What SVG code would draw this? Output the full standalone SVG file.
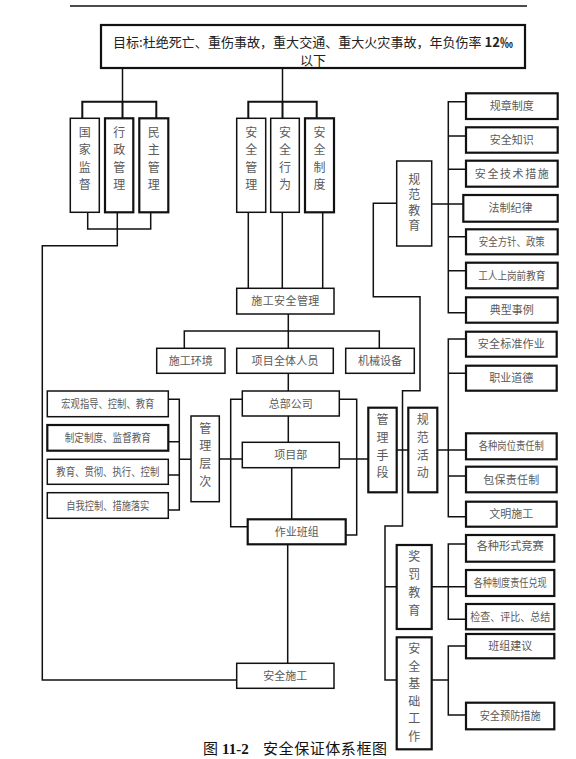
<svg xmlns="http://www.w3.org/2000/svg" width="576" height="759" viewBox="0 0 576 759">
<style>
.b{fill:#fff;stroke:#111;stroke-width:1.5}
.bb{fill:#fff;stroke:#111;stroke-width:2.2}
.t{font-family:"Noto Sans CJK SC","Noto Sans",sans-serif;font-size:11px;fill:#5a5a5a;text-anchor:middle}
.v{font-family:"Noto Sans CJK SC","Noto Sans",sans-serif;font-size:12px;fill:#5a5a5a;text-anchor:middle}
.c{stroke:#111;stroke-width:1.5;fill:none}
</style>
<rect width="576" height="759" fill="#fff"/>
<line x1="70" y1="6" x2="527" y2="6" stroke="#111" stroke-width="1.6"/>

<g id="connectors" class="c">
<path d="M122.5,68V101.7M282.5,68V101.7"/>
<path d="M82.3,118.3V101.7H156.3V118.3M122.5,101.7V118.3" stroke-width="2"/>
<path d="M248.3,118.3V101.7H316.7V118.3M282.5,101.7V118.3" stroke-width="2"/>
<path d="M87.7,212.3V229H150.7V212.3M117.3,212.3V245.7H42.3V680H236.7"/>
<path d="M248.3,212.3V288.3M282.3,212.3V288.3M322.7,212.3V288.3"/>
<path d="M288.3,314V331M184.3,348.3V331H379.3V348.3M288.3,331V348.3"/>
<path d="M288.3,373.3V391M288.3,416V442.3M291.7,467.7V519.3M287.7,544.3V663.3"/>
<path d="M168.3,399.3H179.3V510H168.3M168.3,441.7H179.3M168.3,475H179.3M179.3,459.3H191"/>
<path d="M219.3,459H242.3M242.3,399.3H230.7V526.7H247.7"/>
<path d="M339.3,399.3H356.7V535H345.7M339.3,459H368.3"/>
<path d="M396.7,450H408.3M437.3,450H466"/>
<path d="M396.7,203.3H373.3V296.7H420V390.7H402.5V526H385V680H396.7M385,586.7H396.7"/>
<path d="M466,101.7H448.3V312.7H466M448.3,136H466M448.3,169.3H466M431.7,204H463.3M448.3,236.7H466M448.3,270.7H466"/>
<path d="M466,339H448.3V516.7H466M448.3,373.3H466M448.3,476H466"/>
<path d="M431.7,586.7H466M466,544H448.3V619.3H466"/>
<path d="M431.7,680H448.3M466,646H448.3V715H466"/>
</g>

<g id="goal">
<rect class="bb" x="101" y="25" width="424" height="43"/>
<text x="313" y="47" font-family="Noto Sans CJK SC,sans-serif" font-size="13" fill="#222" text-anchor="middle" textLength="400" lengthAdjust="spacingAndGlyphs">目标:杜绝死亡、重伤事故，重大交通、重大火灾事故，年负伤率 <tspan font-weight="bold">12‰</tspan></text>
<text x="313" y="65" font-family="Noto Sans CJK SC,sans-serif" font-size="13" fill="#222" text-anchor="middle">以下</text>
</g>

<g id="n-guojia"><rect class="b" x="70.3" y="118.3" width="29" height="94"/>
<text class="v"><tspan x="84.8" y="136.5">国</tspan><tspan x="84.8" y="154">家</tspan><tspan x="84.8" y="171.5">监</tspan><tspan x="84.8" y="189">督</tspan></text></g>
<g id="n-xingzheng"><rect class="bb" x="105" y="118.3" width="28.3" height="94"/>
<text class="v"><tspan x="119.2" y="136.5">行</tspan><tspan x="119.2" y="154">政</tspan><tspan x="119.2" y="171.5">管</tspan><tspan x="119.2" y="189">理</tspan></text></g>
<g id="n-minzhu"><rect class="bb" x="139.3" y="118.3" width="29" height="94"/>
<text class="v"><tspan x="153.8" y="136.5">民</tspan><tspan x="153.8" y="154">主</tspan><tspan x="153.8" y="171.5">管</tspan><tspan x="153.8" y="189">理</tspan></text></g>

<g id="n-anquanguanli"><rect class="b" x="236.7" y="118.3" width="29" height="94"/>
<text class="v"><tspan x="251.2" y="136.5">安</tspan><tspan x="251.2" y="154">全</tspan><tspan x="251.2" y="171.5">管</tspan><tspan x="251.2" y="189">理</tspan></text></g>
<g id="n-anquanxingwei"><rect class="b" x="270.7" y="118.3" width="28.6" height="94"/>
<text class="v"><tspan x="285" y="136.5">安</tspan><tspan x="285" y="154">全</tspan><tspan x="285" y="171.5">行</tspan><tspan x="285" y="189">为</tspan></text></g>
<g id="n-anquanzhidu"><rect class="bb" x="305" y="118.3" width="29" height="94"/>
<text class="v"><tspan x="319.5" y="136.5">安</tspan><tspan x="319.5" y="154">全</tspan><tspan x="319.5" y="171.5">制</tspan><tspan x="319.5" y="189">度</tspan></text></g>

<g id="n-shigonganquan"><rect class="b" x="236.7" y="288.3" width="97.3" height="25.7"/>
<text class="t" x="285.3" y="305.2" textLength="68" lengthAdjust="spacing">施工安全管理</text></g>
<g id="n-huanjing"><rect class="b" x="156.7" y="348.3" width="68.3" height="25"/>
<text class="t" x="190.8" y="365">施工环境</text></g>
<g id="n-renyuan"><rect class="b" x="236.7" y="348.3" width="96.6" height="25"/>
<text class="t" x="285" y="365" textLength="67" lengthAdjust="spacing">项目全体人员</text></g>
<g id="n-jixie"><rect class="b" x="345.7" y="348.3" width="68.6" height="25"/>
<text class="t" x="380" y="365">机械设备</text></g>

<g id="n-zongbu"><rect class="b" x="242.3" y="391" width="97" height="25"/>
<text class="t" x="290.8" y="407.5">总部公司</text></g>
<g id="n-xiangmubu"><rect class="b" x="242.3" y="442.3" width="97" height="25.4"/>
<text class="t" x="290.8" y="459">项目部</text></g>
<g id="n-banzu"><rect class="bb" x="247.7" y="519.3" width="98" height="25"/>
<text class="t" x="296.7" y="536">作业班组</text></g>
<g id="n-anquanshigong"><rect class="b" x="236.7" y="663.3" width="97.3" height="25"/>
<text class="t" x="285.3" y="680">安全施工</text></g>

<g id="n-l1"><rect class="b" x="47.3" y="391" width="121" height="25.7"/>
<text class="t" x="107.8" y="407.8" textLength="93" lengthAdjust="spacingAndGlyphs">宏观指导、控制、教育</text></g>
<g id="n-l2"><rect class="bb" x="47.3" y="425" width="121" height="25.7"/>
<text class="t" x="107.8" y="441.8" textLength="86" lengthAdjust="spacingAndGlyphs">制定制度、监督教育</text></g>
<g id="n-l3"><rect class="b" x="47.3" y="459.3" width="121" height="25"/>
<text class="t" x="107.8" y="475.8" textLength="103" lengthAdjust="spacingAndGlyphs">教育、贯彻、执行、控制</text></g>
<g id="n-l4"><rect class="b" x="47.3" y="492.7" width="121" height="25.6"/>
<text class="t" x="107.8" y="509.5" textLength="83" lengthAdjust="spacingAndGlyphs">自我控制、措施落实</text></g>

<g id="n-guanlicengci"><rect class="b" x="191" y="416" width="28.3" height="85.7"/>
<text class="v"><tspan x="205.2" y="432.5">管</tspan><tspan x="205.2" y="450.2">理</tspan><tspan x="205.2" y="467.9">层</tspan><tspan x="205.2" y="485.5">次</tspan></text></g>
<g id="n-guanlishouduan"><rect class="bb" x="368.3" y="407.7" width="28.4" height="84.6"/>
<text class="v"><tspan x="382.5" y="423.5">管</tspan><tspan x="382.5" y="441.5">理</tspan><tspan x="382.5" y="459.5">手</tspan><tspan x="382.5" y="477.2">段</tspan></text></g>
<g id="n-guifanhuodong"><rect class="bb" x="408.3" y="407.7" width="29" height="84.6"/>
<text class="v"><tspan x="422.8" y="423.5">规</tspan><tspan x="422.8" y="441.5">范</tspan><tspan x="422.8" y="459.5">活</tspan><tspan x="422.8" y="477.2">动</tspan></text></g>

<g id="n-guifanjiaoyu"><rect class="b" x="396.7" y="161" width="35" height="85"/>
<text class="v" font-size="10.5"><tspan x="414.2" y="184">规</tspan><tspan x="414.2" y="199.4">范</tspan><tspan x="414.2" y="214.8">教</tspan><tspan x="414.2" y="230.2">育</tspan></text></g>

<g id="n-r1"><rect class="bb" x="466" y="93.3" width="91.7" height="25.7"/><text class="t" x="511.8" y="110.2">规章制度</text></g>
<g id="n-r2"><rect class="bb" x="466" y="127.3" width="91.7" height="25.4"/><text class="t" x="511.8" y="144">安全知识</text></g>
<g id="n-r3"><rect class="bb" x="466" y="160.7" width="91.7" height="26"/><text class="t" x="511.8" y="177.7" textLength="74" lengthAdjust="spacing">安全技术措施</text></g>
<g id="n-r4"><rect class="bb" x="463.3" y="195" width="94.4" height="26.7"/><text class="t" x="510.5" y="212.3">法制纪律</text></g>
<g id="n-r5"><rect class="bb" x="466" y="229.3" width="91.7" height="25"/><text class="t" x="511.8" y="245.8" textLength="66" lengthAdjust="spacingAndGlyphs">安全方针、政策</text></g>
<g id="n-r6"><rect class="bb" x="466" y="262.7" width="91.7" height="25.6"/><text class="t" x="511.8" y="279.5" textLength="67" lengthAdjust="spacingAndGlyphs">工人上岗前教育</text></g>
<g id="n-r7"><rect class="bb" x="466" y="297.3" width="91.7" height="25.4"/><text class="t" x="511.8" y="314">典型事例</text></g>

<g id="n-r8"><rect class="bb" x="466" y="331.7" width="90.7" height="25"/><text class="t" x="511.3" y="348.2" textLength="67" lengthAdjust="spacing">安全标准作业</text></g>
<g id="n-r9"><rect class="bb" x="466" y="365.7" width="90.7" height="25"/><text class="t" x="511.3" y="382.2">职业道德</text></g>
<g id="n-r10"><rect class="bb" x="466" y="433.3" width="90.7" height="26"/><text class="t" x="511.3" y="450.3" textLength="65" lengthAdjust="spacingAndGlyphs">各种岗位责任制</text></g>
<g id="n-r11"><rect class="bb" x="466" y="466.7" width="90.7" height="25.6"/><text class="t" x="511.3" y="483.5" textLength="56" lengthAdjust="spacing">包保责任制</text></g>
<g id="n-r12"><rect class="bb" x="466" y="501.7" width="90.7" height="25"/><text class="t" x="511.3" y="518.2">文明施工</text></g>

<g id="n-jiangfa"><rect class="bb" x="396.7" y="545" width="35" height="84"/>
<text class="v"><tspan x="414.2" y="560.5">奖</tspan><tspan x="414.2" y="578.5">罚</tspan><tspan x="414.2" y="596.5">教</tspan><tspan x="414.2" y="614.5">育</tspan></text></g>
<g id="n-r13"><rect class="bb" x="466" y="535" width="88.3" height="26.7"/><text class="t" x="510.2" y="549.5" textLength="67" lengthAdjust="spacingAndGlyphs">各种形式竞赛</text></g>
<g id="n-r14"><rect class="bb" x="466" y="570" width="88.3" height="26"/><text class="t" x="510.2" y="587" textLength="73" lengthAdjust="spacingAndGlyphs">各种制度责任兑现</text></g>
<g id="n-r15"><rect class="bb" x="466" y="604" width="88.3" height="25.3"/><text class="t" x="510.2" y="620.7" textLength="80" lengthAdjust="spacingAndGlyphs">检查、评比、总结</text></g>

<g id="n-jichu"><rect class="bb" x="396.7" y="637.3" width="35" height="112"/>
<text class="v"><tspan x="414.2" y="653">安</tspan><tspan x="414.2" y="670.5">全</tspan><tspan x="414.2" y="688">基</tspan><tspan x="414.2" y="705.5">础</tspan><tspan x="414.2" y="723">工</tspan><tspan x="414.2" y="740.5">作</tspan></text></g>
<g id="n-r16"><rect class="bb" x="466" y="634" width="88.3" height="24.3"/><text class="t" x="510.2" y="650">班组建议</text></g>
<g id="n-r17"><rect class="bb" x="466" y="702.7" width="88.3" height="26.6"/><text class="t" x="510.2" y="720" textLength="61" lengthAdjust="spacingAndGlyphs">安全预防措施</text></g>

<g id="caption" font-family="Noto Sans CJK SC,sans-serif" font-size="15" fill="#111">
<text x="203" y="753.5">图</text>
<text x="222" y="753.5" font-family="Liberation Serif,serif" font-weight="bold" font-size="15">11-2</text>
<text x="263" y="753.5" textLength="124" lengthAdjust="spacing">安全保证体系框图</text>
</g>
</svg>
